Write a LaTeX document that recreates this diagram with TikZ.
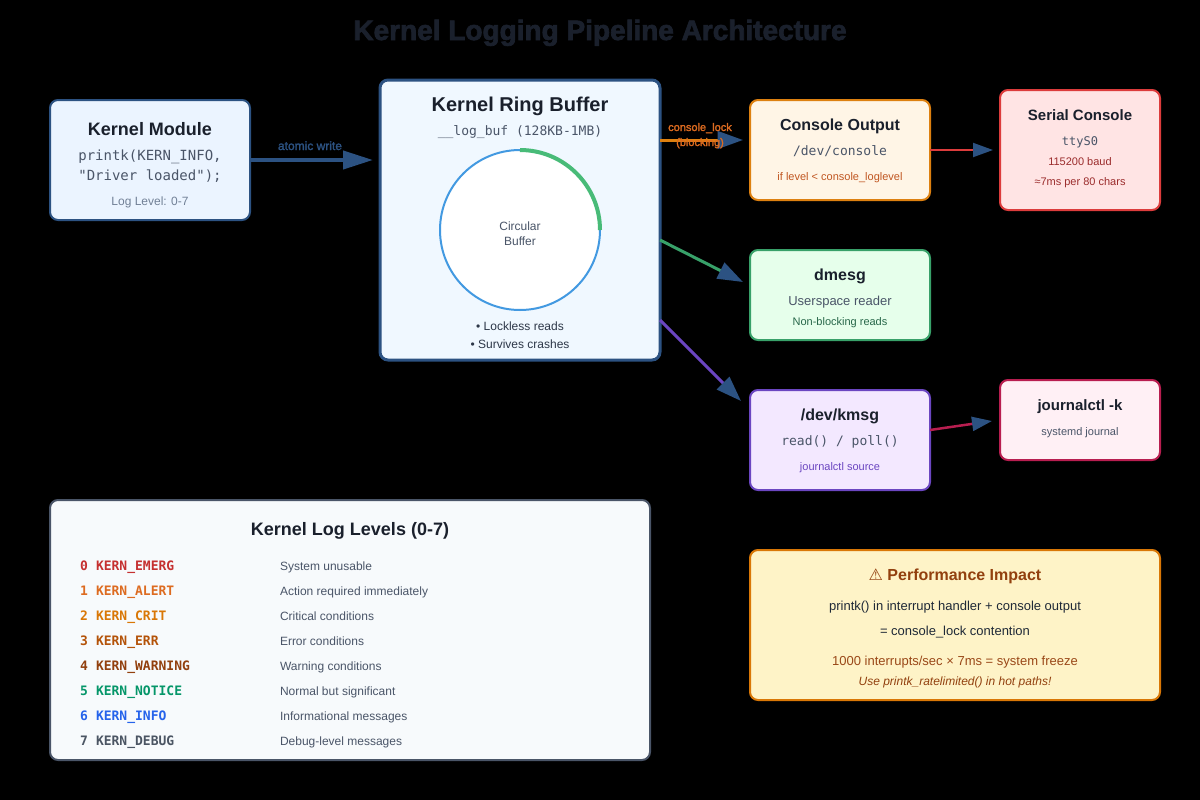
\documentclass[tikz,border=0pt]{standalone}
\usepackage{fontspec}
\setmainfont{Liberation Sans}
\setmonofont{DejaVu Sans Mono}
\newfontfamily\symfont{DejaVu Sans}
\newfontfamily\strokefont[FakeBold=2]{Liberation Sans}
\newfontfamily\titlefont[FakeBold=2.5]{Liberation Sans Bold}
\usetikzlibrary{arrows.meta}
\newcommand\F[1]{\fontsize{\fpeval{#1*0.75}pt}{\fpeval{#1*0.9}pt}\selectfont}
\definecolor{tdark}{HTML}{1A202C}
\definecolor{tgrey}{HTML}{4A5568}
\definecolor{tlight}{HTML}{718096}
\definecolor{headblue}{HTML}{2C5282}
\tikzset{
  x=0.75pt,y=-0.75pt,
  box/.style={draw,rectangle,rounded corners=6pt,inner sep=0,outer sep=0,line width=1.5pt},
  lbl/.style={anchor=base,inner sep=0,outer sep=0,text=tdark},
  lft/.style={anchor=base west,inner sep=0,outer sep=0},
  conn/.style={line width=#1*0.75pt,line cap=butt},
  tipbig/.style={-{Triangle[length=22.5pt,width=13.5pt,color=headblue]}},
  tipmid/.style={-{Triangle[length=19pt,width=13pt,color=headblue]}},
  tipsmall/.style={-{Triangle[length=15pt,width=10.5pt,color=headblue]}},
}
\begin{document}
\begin{tikzpicture}
\path[use as bounding box,fill=black] (0,0) rectangle (1200,800);
\node[lbl] (title) at (600,40) {\F{28}\titlefont Kernel Logging Pipeline Architecture};

% boxes
\node[box,fill={rgb,255:red,235;green,244;blue,255},draw={rgb,255:red,44;green,82;blue,130},minimum width=150pt,minimum height=90pt] (mod) at (150,160) {};
\node[box,fill={rgb,255:red,240;green,248;blue,255},draw=headblue,line width=2.25pt,minimum width=210pt,minimum height=210pt] (ring) at (520,220) {};
\node[box,fill={rgb,255:red,255;green,245;blue,230},draw={rgb,255:red,221;green,128;blue,16},minimum width=135pt,minimum height=75pt] (console) at (840,150) {};
\node[box,fill={rgb,255:red,255;green,228;blue,228},draw={rgb,255:red,220;green,60;blue,60},minimum width=120pt,minimum height=90pt] (serial) at (1080,150) {};
\node[box,fill={rgb,255:red,230;green,255;blue,235},draw={rgb,255:red,56;green,161;blue,105},minimum width=135pt,minimum height=67.5pt] (dmesg) at (840,295) {};
\node[box,fill={rgb,255:red,243;green,232;blue,255},draw={rgb,255:red,107;green,70;blue,193},minimum width=135pt,minimum height=75pt] (kmsg) at (840,440) {};
\node[box,fill={rgb,255:red,255;green,240;blue,245},draw={rgb,255:red,184;green,30;blue,80},minimum width=120pt,minimum height=60pt] (journal) at (1080,420) {};
\node[box,fill={rgb,255:red,247;green,250;blue,252},draw=tgrey,minimum width=450pt,minimum height=195pt] (levels) at (350,630) {};
\node[box,fill={rgb,255:red,254;green,243;blue,199},draw={rgb,255:red,217;green,119;blue,6},minimum width=307.5pt,minimum height=112.5pt] (perf) at (955,625) {};

% circular buffer
\node[draw={rgb,255:red,66;green,153;blue,225},circle,fill=white,line width=1.5pt,minimum size=120pt,inner sep=0,outer sep=0] (buf) at (520,230) {};
\draw[color={rgb,255:red,72;green,187;blue,120},line width=3pt] (buf.north) arc[start angle=90,end angle=0,radius=60pt];

% connector end points
\coordinate (w1) at (373,160);
\coordinate (r0) at (660,140);
\coordinate (c0) at (743,140);
\coordinate (r1) at (660,240);
\coordinate (d0) at (743,282);
\coordinate (r2) at (660,320);
\coordinate (k0) at (741,401);
\coordinate (s0) at (993,150);
\coordinate (k1) at (930,430);
\coordinate (j0) at (992,421);

\draw[conn=4,color=headblue,tipbig] (mod.east) -- (w1);
\draw[conn=3,color={rgb,255:red,221;green,128;blue,16},tipmid] (r0) -- (c0);
\draw[conn=3,color={rgb,255:red,56;green,161;blue,105},tipmid] (r1) -- (d0);
\draw[conn=3,color={rgb,255:red,107;green,70;blue,193},tipmid] (r2) -- (k0);
\draw[conn=2,color={rgb,255:red,220;green,60;blue,60},tipsmall] (console.east) -- (s0);
\draw[conn=2.5,color={rgb,255:red,184;green,30;blue,80},tipsmall] (k1) -- (j0);

% connector labels
\node[lbl,text=headblue] (lwrite) at (310,150) {\F{12}\strokefont atomic write};
\node[lbl,text={rgb,255:red,221;green,107;blue,32}] (llock) at (700,131) {\F{11}\strokefont console\_lock};
\node[lbl,text={rgb,255:red,221;green,107;blue,32}] (lblock) at (700,146) {\F{11}\strokefont (blocking)};

% kernel module
\node[lbl] (m1) at (150,135) {\F{18}\bfseries Kernel Module};
\node[lbl,text=tgrey] (m2) at (150,160) {\F{14}\ttfamily printk(KERN\_INFO,};
\node[lbl,text=tgrey] (m3) at (150,180) {\F{14}\ttfamily "Driver loaded");};
\node[lbl,text=tlight] (m4) at (150,205) {\F{12}Log Level: 0-7};

% ring
\node[lbl] (r1t) at (520,111) {\F{20}\bfseries Kernel Ring Buffer};
\node[lbl,text=tgrey] (r2t) at (520,135) {\F{13}\ttfamily \_\_log\_buf (128KB-1MB)};
\node[lbl,text=tgrey] (r3t) at (520,230) {\F{12}Circular};
\node[lbl,text=tgrey] (r4t) at (520,245) {\F{12}Buffer};
\node[lbl,text={rgb,255:red,45;green,55;blue,72}] (r5t) at (520,330) {\F{12}• Lockless reads};
\node[lbl,text={rgb,255:red,45;green,55;blue,72}] (r6t) at (520,348) {\F{12}• Survives crashes};

% console
\node[lbl] (c1t) at (840,130) {\F{16}\bfseries Console Output};
\node[lbl,text=tgrey] (c2t) at (840,155) {\F{13}\ttfamily /dev/console};
\node[lbl,text={rgb,255:red,192;green,86;blue,33}] (c3t) at (840,180) {\F{11}if level < console\_loglevel};

% serial
\node[lbl] (s1t) at (1080,120) {\F{15}\bfseries Serial Console};
\node[lbl,text=tgrey] (s2t) at (1080,145) {\F{12}\ttfamily ttyS0};
\node[lbl,text={rgb,255:red,155;green,44;blue,44}] (s3t) at (1080,165) {\F{11}115200 baud};
\node[lbl,text={rgb,255:red,155;green,44;blue,44}] (s4t) at (1080,185) {\F{11}≈7ms per 80 chars};

% dmesg
\node[lbl] (d1t) at (840,280) {\F{16}\bfseries dmesg};
\node[lbl,text=tgrey] (d2t) at (840,305) {\F{13}Userspace reader};
\node[lbl,text={rgb,255:red,39;green,103;blue,73}] (d3t) at (840,325) {\F{11}Non-blocking reads};

% kmsg
\node[lbl] (k1t) at (840,420) {\F{16}\bfseries /dev/kmsg};
\node[lbl,text=tgrey] (k2t) at (840,445) {\F{13}\ttfamily read() / poll()};
\node[lbl,text={rgb,255:red,107;green,70;blue,193}] (k3t) at (840,470) {\F{11}journalctl source};

% journal
\node[lbl] (j1t) at (1080,410) {\F{15}\bfseries journalctl -k};
\node[lbl,text=tgrey] (j2t) at (1080,435) {\F{11}systemd journal};

% levels
\node[lbl] (l0) at (350,535) {\F{18}\bfseries Kernel Log Levels (0-7)};
\foreach \i/\nm/\ds/\r/\g/\b in {
 0/KERN\_EMERG/System unusable/197/48/48,
 1/KERN\_ALERT/Action required immediately/221/107/32,
 2/KERN\_CRIT/Critical conditions/217/119/6,
 3/KERN\_ERR/Error conditions/180/83/9,
 4/KERN\_WARNING/Warning conditions/146/64/14,
 5/KERN\_NOTICE/Normal but significant/5/150/105,
 6/KERN\_INFO/Informational messages/37/99/235,
 7/KERN\_DEBUG/Debug-level messages/75/85/99}{
  \pgfmathsetmacro\yy{570+25*\i}
  \node[lft,text={rgb,255:red,\r;green,\g;blue,\b}] (ln\i) at (80,\yy) {\F{13}\ttfamily\bfseries \i};
  \node[lft,text={rgb,255:red,\r;green,\g;blue,\b}] (lk\i) at (96,\yy) {\F{13}\ttfamily\bfseries \nm};
  \node[lft,text=tgrey] (ld\i) at (280,\yy) {\F{12}\ds};
}

% performance
\node[lbl,text={rgb,255:red,146;green,64;blue,14}] (p1) at (955,580) {\F{16}{\symfont ⚠} \bfseries Performance Impact};
\node[lbl,text={rgb,255:red,31;green,41;blue,55}] (p2) at (955,610) {\F{13}printk() in interrupt handler + console output};
\node[lbl,text={rgb,255:red,31;green,41;blue,55}] (p3) at (955,635) {\F{13}= console\_lock contention};
\node[lbl,text={rgb,255:red,154;green,72;blue,24}] (p4) at (955,665) {\F{13}1000 interrupts/sec × 7ms = system freeze};
\node[lbl,text={rgb,255:red,146;green,64;blue,14}] (p5) at (955,685) {\F{12}\itshape Use printk\_ratelimited() in hot paths!};
\end{tikzpicture}
\end{document}
